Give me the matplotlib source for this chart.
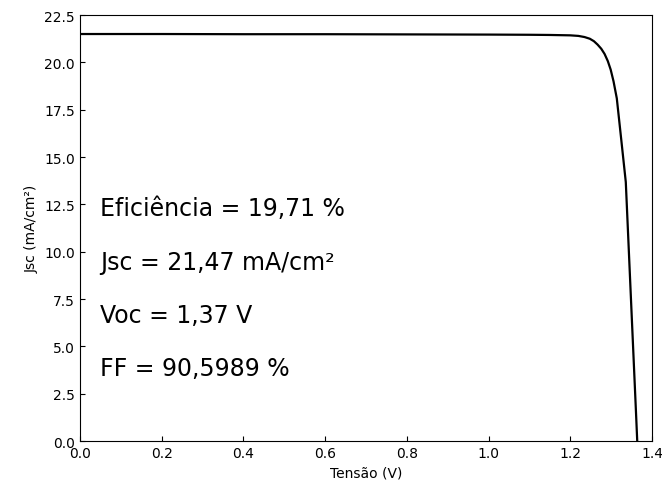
import matplotlib
matplotlib.use("Agg")
import matplotlib.pyplot as plt

# J-V curve data
voltage = [0.00, 0.20, 0.40, 0.60, 0.80, 1.00, 1.10, 1.15, 1.20, 1.22, 1.235,
           1.248, 1.258, 1.267, 1.276, 1.284, 1.292, 1.299, 1.306, 1.314, 1.325,
           1.336, 1.350, 1.361, 1.364, 1.367]
current = [21.50, 21.50, 21.49, 21.49, 21.48, 21.47, 21.46, 21.45, 21.43, 21.40, 21.34,
           21.25, 21.12, 20.94, 20.72, 20.45, 20.07, 19.62, 19.00, 18.10, 15.90,
           13.68, 6.85, 1.50, 0.0, -1.0]

annotations = ["Eficiência = 19,71 %", "Jsc = 21,47 mA/cm²", "Voc = 1,37 V", "FF = 90,5989 %"]
annot_y = [12.3, 9.45, 6.65, 3.86]

xticks = [0.0, 0.2, 0.4, 0.6, 0.8, 1.0, 1.2, 1.4]
yticks = [0.0, 2.5, 5.0, 7.5, 10.0, 12.5, 15.0, 17.5, 20.0, 22.5]

fig = plt.figure(figsize=(6.62, 4.89), dpi=100)
ax = fig.add_axes([0.1208, 0.0961, 0.864, 0.871])
ax.plot(voltage, current, color="black", linewidth=1.6)
ax.set_xlim(0, 1.4)
ax.set_ylim(0, 22.5)
ax.set_xticks(xticks)
ax.set_yticks(yticks)
ax.tick_params(direction="in", top=False, right=False, labelsize=10)
ax.set_xlabel("Tensão (V)", fontsize=10)
ax.set_ylabel("Jsc (mA/cm²)", fontsize=10)
for txt, yy in zip(annotations, annot_y):
    ax.text(0.05, yy, txt, fontsize=17, va="center", ha="left")

fig.savefig("out.png", dpi=100)
